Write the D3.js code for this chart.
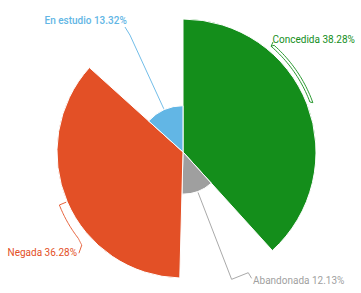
<!DOCTYPE html>
<html><head><meta charset="utf-8">
<script src="https://cdn.jsdelivr.net/npm/d3@7"></script>
<style>body{margin:0;background:#fff}svg{display:block}</style>
</head><body>
<svg id="c" width="361" height="293"></svg>
<script>
const categories = ["Concedida", "Abandonada", "Negada", "En estudio"];
const values = [38.28, 12.13, 36.28, 13.32];
const labels = ["Concedida 38.28%", "Abandonada 12.13%", "Negada 36.28%", "En estudio 13.32%"];
const colors = ["#148e1b", "#9f9f9f", "#e35026", "#62b6e5"];

const W = 361, H = 293, cx = 183, cy = 152;
const svg = d3.select("#c");
const g = svg.append("g").attr("transform", `translate(${cx},${cy})`);
const r = d3.scaleLinear().domain([0, d3.max(values)]).range([0, 133]);
const pie = d3.pie().sort(null).value(d => d)(values);
const arc = d3.arc().innerRadius(0).outerRadius(d => r(d.data));

g.selectAll("path.s").data(pie).join("path").attr("class", "s")
  .attr("d", arc).attr("fill", (d, i) => colors[i])
  .attr("stroke", "#fff").attr("stroke-width", 1);

// label layout (polar points: [angleDeg, radius], 'c' marks curved interpolation)
const deg = d => d * 180 / Math.PI;
const mid = pie.map(d => deg((d.startAngle + d.endAngle) / 2));
const leader = [
  [[39.3, 142.2], [39.8, 137.6], [68.5, 136.4, 'c'], [69.2, 138.9], [40.5, 140.3, 'c'], [39.8, 137.6]],
  [[mid[1], r(values[1]) + 1], [159.1, 136.3], [151.6, 137.2], [151.5, 143.8]],
  [[mid[2], r(values[2]) + 1], [246.8, 134.5], [230.5, 135.7, 'c'], [227.4, 137.5, 'c'], [225.8, 145.2]],
  [[mid[3], r(values[3]) + 1], [335.6, 128.4], [335.1, 137.8]]
];
const textPos = [[272.5, 42.6, "start"], [253, 284, "start"], [7.5, 255.5, "start"], [44.5, 23.5, "start"]];

function pt(a, rr) { const t = a * Math.PI / 180; return [rr * Math.sin(t), -rr * Math.cos(t)]; }
function build(list) {
  const pts = [pt(list[0][0], list[0][1])];
  for (let k = 1; k < list.length; k++) {
    const [a, rr, c] = list[k];
    if (c === 'c') {
      const [a0, r0] = list[k - 1];
      for (let s = 1; s <= 24; s++) { const f = s / 24; pts.push(pt(a0 + (a - a0) * f, r0 + (rr - r0) * f)); }
    } else pts.push(pt(a, rr));
  }
  return d3.line()(pts);
}
g.selectAll("path.l").data(leader).join("path").attr("class", "l")
  .attr("d", build).attr("fill", "none")
  .attr("stroke", (d, i) => colors[i]).attr("stroke-width", 0.9);

svg.selectAll("text.t").data(labels).join("text").attr("class", "t")
  .attr("x", (d, i) => textPos[i][0]).attr("y", (d, i) => textPos[i][1])
  .attr("text-anchor", (d, i) => textPos[i][2])
  .attr("fill", (d, i) => colors[i])
  .attr("font-family", "Roboto, sans-serif").attr("font-size", 10)
  .attr("font-weight", (d, i) => i === 3 ? 500 : 400)
  .text(d => d);
</script>
</body></html>
